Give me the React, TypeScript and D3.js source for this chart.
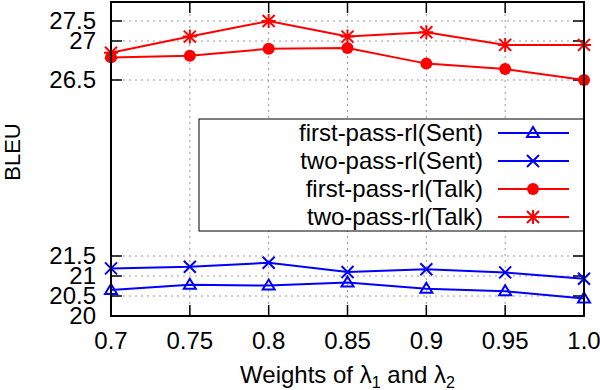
import { useEffect, useRef } from 'react';
import * as d3 from 'd3';

// Weights on the x axis
const weights = [0.7, 0.75, 0.8, 0.85, 0.9, 0.95, 1.0];
const xTickLabels = ['0.7', '0.75', '0.8', '0.85', '0.9', '0.95', '1.0'];

// y axis is broken: low block (Sent) and high block (Talk)
const yTicks = [20, 20.5, 21, 21.5, 26.5, 27, 27.5];
const yTickLabels = ['20', '20.5', '21', '21.5', '26.5', '27', '27.5'];

// BLEU values
const firstPassSent = [20.65, 20.78, 20.76, 20.84, 20.68, 20.62, 20.44];
const twoPassSent = [21.19, 21.23, 21.33, 21.1, 21.17, 21.09, 20.93];
const firstPassTalk = [26.79, 26.81, 26.9, 26.91, 26.71, 26.64, 26.5];
const twoPassTalk = [26.85, 27.11, 27.5, 27.11, 27.22, 26.95, 26.95];

const seriesNames = ['first-pass-rl(Sent)', 'two-pass-rl(Sent)', 'first-pass-rl(Talk)', 'two-pass-rl(Talk)'];
const seriesColors = ['#0000ff', '#0000ff', '#ff0000', '#ff0000'];
const seriesMarkers = ['triangle', 'cross', 'circle', 'star'];

const FONT = '"Liberation Sans", Arial, Helvetica, sans-serif';

const drawMarker = (g, type, x, y, color) => {
    if (type === 'triangle') {
        g.append('path')
            .attr('d', `M${x},${y - 6}L${x + 6},${y + 4}L${x - 6},${y + 4}Z`)
            .attr('fill', 'none')
            .attr('stroke', color)
            .attr('stroke-width', 2);
    } else if (type === 'cross') {
        g.append('path')
            .attr('d', `M${x - 6},${y - 6}L${x + 6},${y + 6}M${x - 6},${y + 6}L${x + 6},${y - 6}`)
            .attr('stroke', color)
            .attr('stroke-width', 2);
    } else if (type === 'circle') {
        g.append('circle')
            .attr('cx', x)
            .attr('cy', y)
            .attr('r', 6)
            .attr('fill', color);
    } else {
        g.append('path')
            .attr('d', `M${x - 6},${y - 6}L${x + 6},${y + 6}M${x - 6},${y + 6}L${x + 6},${y - 6}M${x},${y - 7}L${x},${y + 7}M${x - 7},${y}L${x + 7},${y}`)
            .attr('stroke', color)
            .attr('stroke-width', 2);
    }
};

const App = () => {
    const svgRef = useRef(null);

    useEffect(() => {
        if (!svgRef.current) return;
        const root = d3.select(svgRef.current);
        root.selectAll('*').remove();

        const margin = { top: 2, right: 16, bottom: 74, left: 111 };
        const width = 600 - margin.left - margin.right;
        const height = 390 - margin.top - margin.bottom;

        const svg = root.append('g').attr('transform', `translate(${margin.left},${margin.top})`);

        const xScale = d3.scaleLinear().domain([0.7, 1.0]).range([0, width]);
        // polylinear scale for the broken axis
        const yScale = d3.scaleLinear()
            .domain([20, 21.5, 26.5, 27, 27.5])
            .range([height, height - 60, 78, 39, 19]);

        // grid
        const gridColor = '#9a9a9a';
        svg.selectAll('.vgrid')
            .data(weights.slice(1, -1))
            .enter()
            .append('line')
            .attr('x1', d => xScale(d))
            .attr('x2', d => xScale(d))
            .attr('y1', 0)
            .attr('y2', height)
            .attr('stroke', gridColor)
            .attr('stroke-width', 1)
            .attr('stroke-dasharray', '2,4');
        svg.selectAll('.hgrid')
            .data(yTicks.slice(1))
            .enter()
            .append('line')
            .attr('x1', 0)
            .attr('x2', width)
            .attr('y1', d => yScale(d))
            .attr('y2', d => yScale(d))
            .attr('stroke', gridColor)
            .attr('stroke-width', 1)
            .attr('stroke-dasharray', '2,4');

        // tick marks (inside, mirrored)
        const tickLen = 11;
        yTicks.forEach(v => {
            const y = yScale(v);
            svg.append('line').attr('x1', 0).attr('x2', tickLen).attr('y1', y).attr('y2', y).attr('stroke', '#000').attr('stroke-width', 1.5);
            svg.append('line').attr('x1', width - tickLen).attr('x2', width).attr('y1', y).attr('y2', y).attr('stroke', '#000').attr('stroke-width', 1.5);
        });
        weights.forEach(v => {
            const x = xScale(v);
            svg.append('line').attr('x1', x).attr('x2', x).attr('y1', height).attr('y2', height - tickLen).attr('stroke', '#000').attr('stroke-width', 1.5);
            svg.append('line').attr('x1', x).attr('x2', x).attr('y1', 0).attr('y2', tickLen).attr('stroke', '#000').attr('stroke-width', 1.5);
        });

        // tick labels
        svg.selectAll('.ylabel')
            .data(yTicks)
            .enter()
            .append('text')
            .attr('x', -15)
            .attr('y', d => yScale(d))
            .attr('dy', '0.35em')
            .attr('text-anchor', 'end')
            .attr('font-family', FONT)
            .attr('font-size', '24px')
            .text((d, i) => yTickLabels[i]);

        svg.selectAll('.xlabel')
            .data(weights)
            .enter()
            .append('text')
            .attr('x', d => xScale(d))
            .attr('y', height + 33)
            .attr('text-anchor', 'middle')
            .attr('font-family', FONT)
            .attr('font-size', '24px')
            .text((d, i) => xTickLabels[i]);

        // series
        const allSeries = [firstPassSent, twoPassSent, firstPassTalk, twoPassTalk];
        const line = d3.line()
            .x((d, i) => xScale(weights[i]))
            .y(d => yScale(d));

        allSeries.forEach((values, s) => {
            svg.append('path')
                .datum(values)
                .attr('d', line)
                .attr('fill', 'none')
                .attr('stroke', seriesColors[s])
                .attr('stroke-width', 2);
            const mg = svg.append('g');
            values.forEach((v, i) => drawMarker(mg, seriesMarkers[s], xScale(weights[i]), yScale(v), seriesColors[s]));
        });

        // legend
        const lg = svg.append('g').attr('transform', `translate(${199 - margin.left},${119 - margin.top})`);
        lg.append('rect')
            .attr('x', 0)
            .attr('y', 0)
            .attr('width', 584 - 199)
            .attr('height', 112)
            .attr('fill', '#fff')
            .attr('stroke', '#000')
            .attr('stroke-width', 1);
        seriesNames.forEach((name, s) => {
            const cy = 14 + s * 28;
            lg.append('text')
                .attr('x', 483 - 199)
                .attr('y', cy)
                .attr('dy', '0.35em')
                .attr('text-anchor', 'end')
                .attr('font-family', FONT)
                .attr('font-size', '24px')
                .text(name);
            lg.append('line')
                .attr('x1', 498 - 199)
                .attr('x2', 569 - 199)
                .attr('y1', cy)
                .attr('y2', cy)
                .attr('stroke', seriesColors[s])
                .attr('stroke-width', 2);
            drawMarker(lg, seriesMarkers[s], 533 - 199, cy, seriesColors[s]);
        });

        // border
        svg.append('rect')
            .attr('x', 0)
            .attr('y', 0)
            .attr('width', width)
            .attr('height', height)
            .attr('fill', 'none')
            .attr('stroke', '#000')
            .attr('stroke-width', 2);

        // axis titles
        root.append('text')
            .attr('transform', `translate(20,${152}) rotate(-90)`)
            .attr('text-anchor', 'middle')
            .attr('font-family', FONT)
            .attr('font-size', '22px')
            .text('BLEU');

        const xt = root.append('text')
            .attr('x', margin.left + width / 2)
            .attr('y', 383)
            .attr('text-anchor', 'middle')
            .attr('font-family', FONT)
            .attr('font-size', '24px');
        xt.append('tspan').text('Weights of λ');
        xt.append('tspan').attr('font-size', '16px').attr('dy', 5).text('1');
        xt.append('tspan').attr('dy', -5).text(' and λ');
        xt.append('tspan').attr('font-size', '16px').attr('dy', 5).text('2');
    }, []);

    return (
        <svg
            ref={svgRef}
            width={600}
            height={390}
            style={{ position: 'absolute', left: 0, top: 0, background: '#fff' }}
        ></svg>
    );
};

export default App;
